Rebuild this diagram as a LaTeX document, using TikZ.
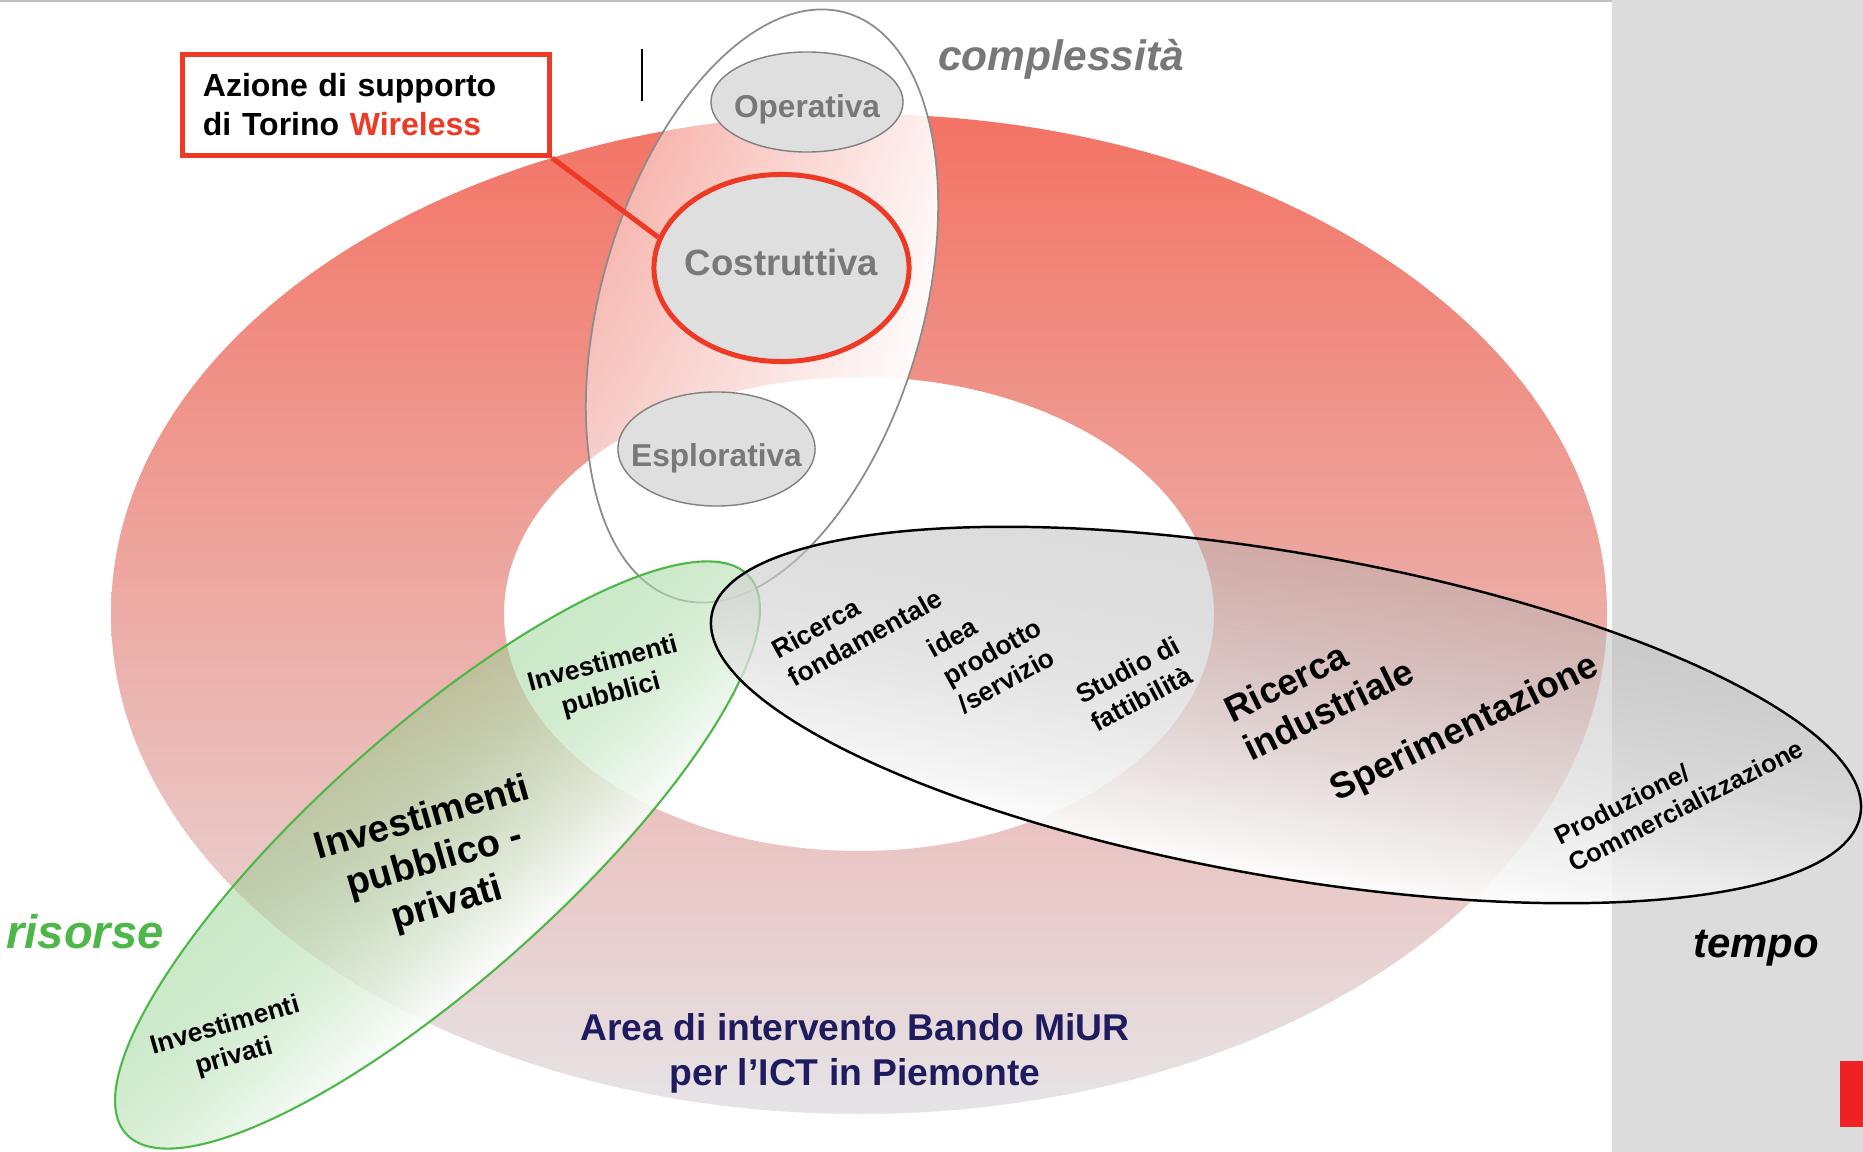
\documentclass[tikz,border=0pt]{standalone}
\usepackage{fontspec}
\setmainfont{Liberation Sans}
\usepackage{xcolor}
\usepackage{tikz}
\usetikzlibrary{shapes.geometric,fadings}

\definecolor{anello}{RGB}{243,115,100}
\definecolor{anellobasso}{RGB}{230,228,231}
\definecolor{rosso}{RGB}{238,58,36}
\definecolor{grigiotesto}{RGB}{120,120,120}
\definecolor{verde}{RGB}{77,184,73}
\definecolor{verdechiaro}{RGB}{140,205,135}
\definecolor{blu}{RGB}{30,27,94}
\definecolor{sfondo}{RGB}{220,220,220}
\definecolor{barra}{RGB}{238,34,36}

\newcommand{\pts}[2]{\fontsize{#1}{#2}\selectfont}

\tikzfading[name=fade lr, left color=transparent!55, right color=transparent!3]
\tikzfading[name=fade tb, top color=transparent!55, bottom color=transparent!5]

\begin{document}
\begin{tikzpicture}[x=0.01cm, y=-0.01cm,
	fase/.style={ellipse, draw=gray, fill=gray!25, inner sep=0pt, text=grigiotesto, font=\bfseries\pts{9}{10}},
	etichetta/.style={inner sep=0pt, align=left, font=\bfseries\pts{7.5}{9.1}},
	grande/.style={inner sep=0pt, align=left, font=\bfseries\pts{10.4}{12.2}},
	asse/.style={anchor=base, inner sep=0pt}]
	\useasboundingbox (0,0) rectangle (1863,1152);
	% sfondo
	\fill[sfondo] (1612,0) rectangle (1863,1152);
	\draw[gray!50, line width=0.6pt] (0,1) -- (1612,1);
	\fill[barra] (1840,1061) rectangle (1863,1127);
	% anello
	\path[even odd rule, top color=anello, bottom color=anellobasso] (859,614) ellipse (748 and 500) (859,614) ellipse (355 and 237);
	\draw[line width=0.5pt] (642,49) -- (642,101);
	% complessita
	\begin{scope}[transform canvas={rotate around={-16:(762,306)}}]
		\path[fill=white, path fading=fade lr] (762,306) ellipse (161 and 305);
		\draw[gray!90, line width=0.5pt] (762,306) ellipse (161 and 305);
	\end{scope}
	\node[fase, minimum width=1.92cm, minimum height=1.0cm] (operativa) at (807,102) {\makebox[0pt]{\raisebox{-4.5pt}[0pt][0pt]{Operativa}}};
	\node[fase, draw=rosso, line width=1.42pt, minimum width=2.55cm, minimum height=1.87cm, font=\bfseries\pts{10.4}{12}] (costruttiva) at (781.5,268) {\makebox[0pt]{\raisebox{-2pt}[0pt][0pt]{Costruttiva}}};
	\node[fase, minimum width=1.97cm, minimum height=1.14cm] (esplorativa) at (716.5,449) {\makebox[0pt]{\raisebox{-5pt}[0pt][0pt]{Esplorativa}}};
	\node[draw=rosso, line width=1.42pt, fill=white, minimum width=3.67cm, minimum height=1.01cm, text width=3.26cm, inner xsep=0.205cm, inner ysep=0pt, align=left, font=\bfseries\pts{9.1}{11.1}] (azione) at (366,105) {Azione di supporto\\di Torino \textcolor{rosso}{Wireless}};
	\draw[rosso, line width=1.42pt] (azione.south east) -- (costruttiva.166);
	% risorse
	\begin{scope}[transform canvas={rotate around={41.8:(437.5,855)}}]
		\path[top color=verdechiaro, bottom color=white, path fading=fade tb] (437.5,855) ellipse (418 and 124);
		\draw[verde, line width=0.6pt] (437.5,855) ellipse (418 and 124);
	\end{scope}
	% tempo
	\begin{scope}[transform canvas={rotate around={-9.85:(1286,715)}}]
		\path[top color=gray!60, bottom color=white, path fading=fade tb] (1286,715) ellipse (583 and 162);
		\draw[line width=0.7pt] (1286,715) ellipse (583 and 162);
	\end{scope}
	% assi
	\node[asse, text=grigiotesto, font=\bfseries\itshape\pts{12.1}{14}] (complessita) at (1061,71) {complessità};
	\node[asse, text=verde, font=\bfseries\itshape\pts{13.4}{15}] (risorse) at (85,948) {risorse};
	\node[asse, font=\bfseries\itshape\pts{11.9}{14}] (tempo) at (1756,957) {tempo};
	\node[inner sep=0pt, align=center, text=blu, font=\bfseries\pts{10.6}{12.8}] (area) at (855,1053) {Area di intervento Bando MiUR\\per l’ICT in Piemonte};
	% fasi
	\node[etichetta, rotate=29] (fondamentale) at (857,624) {Ricerca\\fondamentale};
	\node[etichetta, rotate=29] (idea) at (992,652) {idea\\prodotto\\/servizio};
	\node[etichetta, rotate=28] (studio) at (1135,684) {Studio di\\fattibilità};
	\node[grande, rotate=26] (industriale) at (1319,690) {Ricerca\\industriale};
	\node[grande, rotate=26] (sperimentazione) at (1465,729) {Sperimentazione};
	\node[etichetta, rotate=27, font=\bfseries\pts{7.3}{8.6}] (produzione) at (1679,792) {Produzione/\\Commercializzazione};
	% investimenti
	\node[etichetta, rotate=15, align=center] (pubblici) at (607,680) {Investimenti\\pubblici};
	\node[grande, rotate=16, align=center, font=\bfseries\pts{10.8}{12.6}] (misti) at (435,862) {Investimenti\\pubblico -\\privati};
	\node[etichetta, rotate=16, align=center] (privati) at (230,1042) {Investimenti\\privati};
\end{tikzpicture}
\end{document}
